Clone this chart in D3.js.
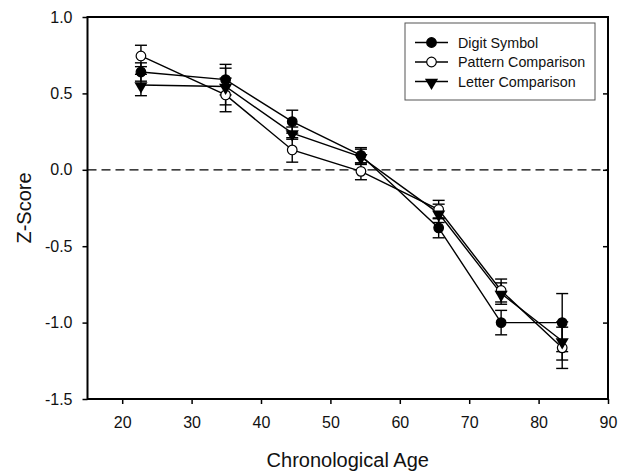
<!DOCTYPE html>
<html>
<head>
<meta charset="utf-8">
<script src="https://cdn.jsdelivr.net/npm/d3@7"></script>
<style>
    body { margin: 0; background: #fff; }
    text { font-family: "Liberation Sans", Arial, sans-serif; fill: #111; }
</style>
</head>
<body>
<div id="viz"></div>
<script>
// ages of the seven groups (same for all three tasks)
let ages = [22.7, 34.9, 44.5, 54.4, 65.6, 74.6, 83.4];

let digitSymbol = [0.64, 0.59, 0.315, 0.095, -0.38, -1.0, -1.0];
let digitSymbolErr = [0.06, 0.10, 0.075, 0.05, 0.065, 0.08, 0.19];

let patternComparison = [0.745, 0.49, 0.13, -0.01, -0.26, -0.79, -1.165];
let patternComparisonErr = [0.07, 0.11, 0.08, 0.055, 0.06, 0.075, 0.135];

let letterComparison = [0.555, 0.545, 0.24, 0.085, -0.285, -0.81, -1.12];
let letterComparisonErr = [0.07, 0.12, 0.04, 0.05, 0.06, 0.07, 0.125];

let seriesNames = ['Digit Symbol', 'Pattern Comparison', 'Letter Comparison'];
let xTicks = [20, 30, 40, 50, 60, 70, 80, 90];
let yTicks = [1.0, 0.5, 0.0, -0.5, -1.0, -1.5];

let width = 635, height = 472;
let plot = { left: 87.5, right: 608, top: 17, bottom: 399 };

let series = [
    { name: seriesNames[0], values: digitSymbol, err: digitSymbolErr, marker: 'filled' },
    { name: seriesNames[1], values: patternComparison, err: patternComparisonErr, marker: 'open' },
    { name: seriesNames[2], values: letterComparison, err: letterComparisonErr, marker: 'triangle' }
];

let xScale = d3.scaleLinear()
    .domain([15, 90])
    .range([plot.left, plot.right]);
let yScale = d3.scaleLinear()
    .domain([-1.5, 1.0])
    .range([plot.bottom, plot.top]);

let svg = d3.select('#viz')
    .append('svg')
    .attr('width', width)
    .attr('height', height);

// frame (top and right sides without ticks)
svg.append('rect')
    .attr('x', plot.left)
    .attr('y', plot.top)
    .attr('width', plot.right - plot.left)
    .attr('height', plot.bottom - plot.top)
    .attr('fill', 'none')
    .attr('stroke', '#000')
    .attr('stroke-width', 2);

let xAxis = d3.axisBottom(xScale)
    .tickValues(xTicks)
    .tickSize(5)
    .tickPadding(13)
    .tickFormat(d3.format('d'));
let yAxis = d3.axisLeft(yScale)
    .tickValues(yTicks)
    .tickSize(5)
    .tickPadding(10)
    .tickFormat((d) => d.toFixed(1));

let xGuide = svg.append('g')
    .attr('transform', 'translate(0,' + plot.bottom + ')')
    .call(xAxis);
let yGuide = svg.append('g')
    .attr('transform', 'translate(' + plot.left + ',0)')
    .call(yAxis);

[xGuide, yGuide].forEach((g) => {
    g.select('.domain').remove();
    g.selectAll('line').attr('stroke', '#000').attr('stroke-width', 1.5);
    g.selectAll('text')
        .style('font-size', '16px')
        .style('font-family', '"Liberation Sans", Arial, sans-serif')
        .attr('fill', '#111');
});

// inward tick marks on the right side
svg.append('g')
    .attr('transform', 'translate(' + plot.right + ',0)')
    .call(d3.axisLeft(yScale).tickValues(yTicks.slice(1, -1)).tickSize(5).tickFormat(''))
    .call((g) => g.select('.domain').remove())
    .selectAll('line').attr('stroke', '#000').attr('stroke-width', 1.5);

// zero reference line
svg.append('line')
    .attr('x1', plot.left)
    .attr('x2', plot.right)
    .attr('y1', yScale(0))
    .attr('y2', yScale(0))
    .attr('stroke', '#000')
    .attr('stroke-width', 1.2)
    .attr('stroke-dasharray', '9,5');

// axis titles
svg.append('text')
    .attr('x', (plot.left + plot.right) / 2)
    .attr('y', 467)
    .attr('text-anchor', 'middle')
    .style('font-size', '20px')
    .text('Chronological Age');

svg.append('text')
    .attr('transform', 'translate(31,' + (plot.top + plot.bottom) / 2 + ') rotate(-90)')
    .attr('text-anchor', 'middle')
    .style('font-size', '20px')
    .text('Z-Score');

let line = d3.line()
    .x((d, i) => xScale(ages[i]))
    .y((d) => yScale(d));

let triangle = d3.symbol().type(d3.symbolTriangle).size(75);

series.forEach((s) => {
    svg.append('path')
        .attr('d', line(s.values))
        .attr('fill', 'none')
        .attr('stroke', '#000')
        .attr('stroke-width', 1.4);
});

series.forEach((s) => {
    let g = svg.append('g');
    let capHalf = 6;
    s.values.forEach((v, i) => {
        let x = xScale(ages[i]);
        let hi = yScale(v + s.err[i]), lo = yScale(v - s.err[i]);
        g.append('line')
            .attr('x1', x).attr('x2', x).attr('y1', hi).attr('y2', lo)
            .attr('stroke', '#000').attr('stroke-width', 1.4);
        [hi, lo].forEach((yy) => {
            g.append('line')
                .attr('x1', x - capHalf).attr('x2', x + capHalf)
                .attr('y1', yy).attr('y2', yy)
                .attr('stroke', '#000').attr('stroke-width', 1.4);
        });
    });
});

function drawMarker(g, type, x, y) {
    if (type === 'triangle') {
        g.append('path')
            .attr('d', triangle())
            .attr('transform', 'translate(' + x + ',' + (y + 1) + ') rotate(180)')
            .attr('fill', '#000');
    } else {
        g.append('circle')
            .attr('cx', x)
            .attr('cy', y)
            .attr('r', 4.8)
            .attr('fill', type === 'filled' ? '#000' : '#fff')
            .attr('stroke', '#000')
            .attr('stroke-width', 1.2);
    }
}

series.forEach((s) => {
    let g = svg.append('g');
    s.values.forEach((v, i) => drawMarker(g, s.marker, xScale(ages[i]), yScale(v)));
});

// legend
let legend = svg.append('g');
legend.append('rect')
    .attr('x', 405)
    .attr('y', 23)
    .attr('width', 190)
    .attr('height', 77)
    .attr('fill', '#fff')
    .attr('stroke', '#555')
    .attr('stroke-width', 1);

series.forEach((s, i) => {
    let yy = 42.5 + i * 19.5;
    legend.append('line')
        .attr('x1', 415).attr('x2', 448)
        .attr('y1', yy).attr('y2', yy)
        .attr('stroke', '#000').attr('stroke-width', 1.4);
    drawMarker(legend, s.marker, 431.5, yy);
    legend.append('text')
        .attr('x', 458)
        .attr('y', yy + 5)
        .style('font-size', '14.3px')
        .text(s.name);
});
</script>
</body>
</html>
